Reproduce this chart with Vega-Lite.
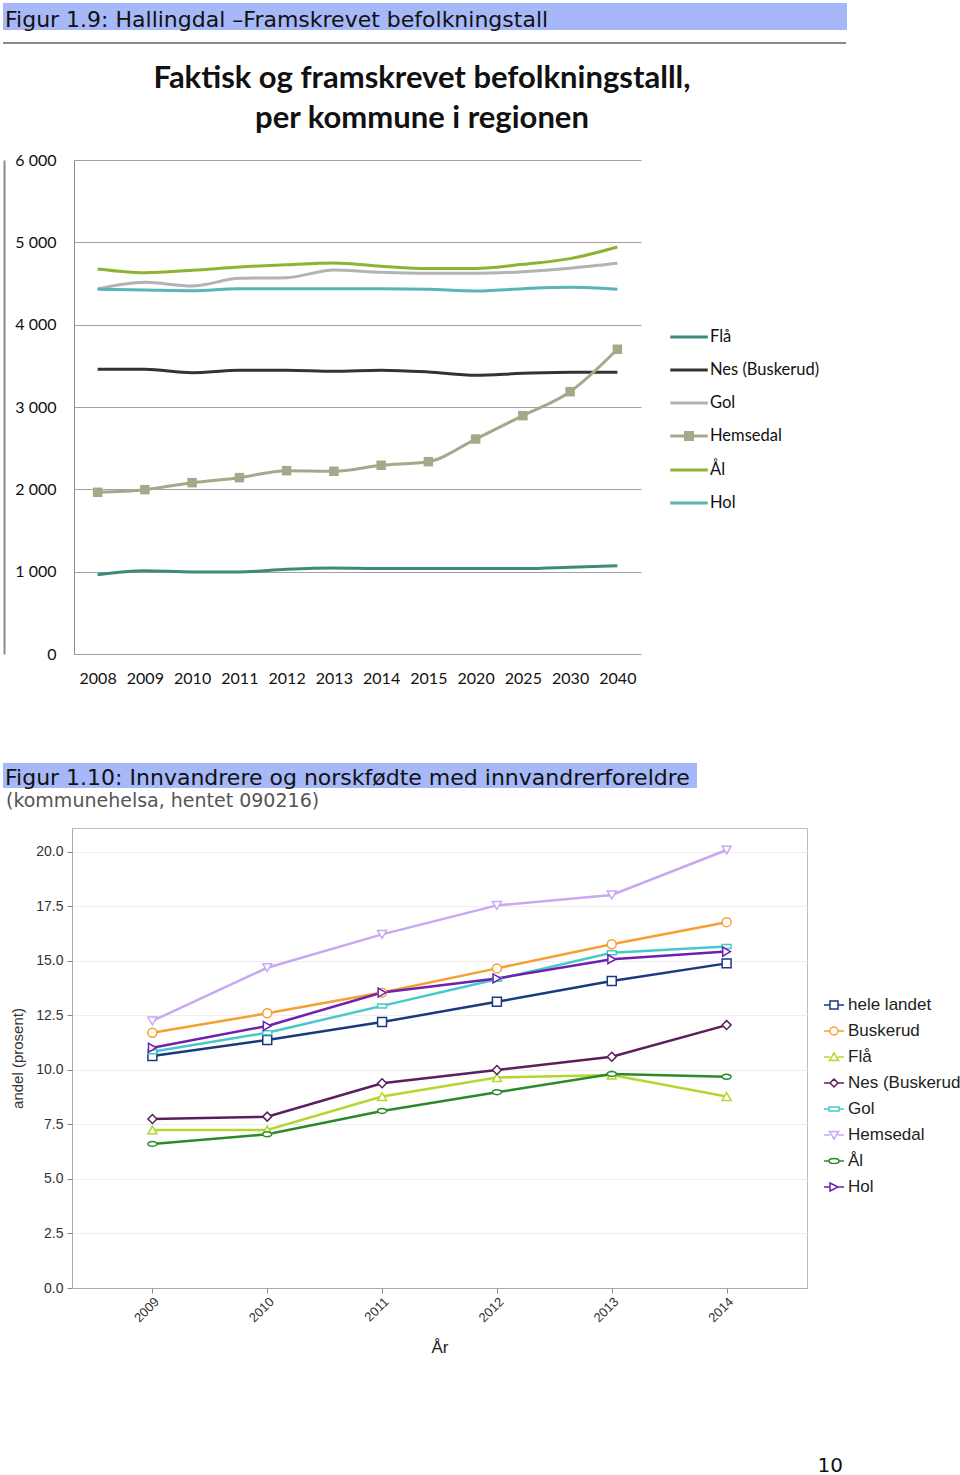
{
  "$schema": "https://vega.github.io/schema/vega-lite/v6.json",
  "background": "white",
  "padding": {"left": 3, "top": 3, "right": 0, "bottom": 0},
  "config": {"view": {"stroke": null}},
  "datasets": {
    "befolkning": [
      {"year": "2008", "kommune": "Ål", "folk": 4676}, {"year": "2009", "kommune": "Ål", "folk": 4631}, {"year": "2010", "kommune": "Ål", "folk": 4660}, {"year": "2011", "kommune": "Ål", "folk": 4700}, {"year": "2012", "kommune": "Ål", "folk": 4729}, {"year": "2013", "kommune": "Ål", "folk": 4749}, {"year": "2014", "kommune": "Ål", "folk": 4709}, {"year": "2015", "kommune": "Ål", "folk": 4681}, {"year": "2020", "kommune": "Ål", "folk": 4681}, {"year": "2025", "kommune": "Ål", "folk": 4733}, {"year": "2030", "kommune": "Ål", "folk": 4802}, {"year": "2040", "kommune": "Ål", "folk": 4943},
      {"year": "2008", "kommune": "Gol", "folk": 4433}, {"year": "2009", "kommune": "Gol", "folk": 4514}, {"year": "2010", "kommune": "Gol", "folk": 4470}, {"year": "2011", "kommune": "Gol", "folk": 4563}, {"year": "2012", "kommune": "Gol", "folk": 4571}, {"year": "2013", "kommune": "Gol", "folk": 4664}, {"year": "2014", "kommune": "Gol", "folk": 4636}, {"year": "2015", "kommune": "Gol", "folk": 4624}, {"year": "2020", "kommune": "Gol", "folk": 4624}, {"year": "2025", "kommune": "Gol", "folk": 4644}, {"year": "2030", "kommune": "Gol", "folk": 4685}, {"year": "2040", "kommune": "Gol", "folk": 4745},
      {"year": "2008", "kommune": "Hol", "folk": 4430}, {"year": "2009", "kommune": "Hol", "folk": 4421}, {"year": "2010", "kommune": "Hol", "folk": 4413}, {"year": "2011", "kommune": "Hol", "folk": 4437}, {"year": "2012", "kommune": "Hol", "folk": 4437}, {"year": "2013", "kommune": "Hol", "folk": 4437}, {"year": "2014", "kommune": "Hol", "folk": 4437}, {"year": "2015", "kommune": "Hol", "folk": 4430}, {"year": "2020", "kommune": "Hol", "folk": 4409}, {"year": "2025", "kommune": "Hol", "folk": 4437}, {"year": "2030", "kommune": "Hol", "folk": 4454}, {"year": "2040", "kommune": "Hol", "folk": 4430},
      {"year": "2008", "kommune": "Nes (Buskerud)", "folk": 3458}, {"year": "2009", "kommune": "Nes (Buskerud)", "folk": 3458}, {"year": "2010", "kommune": "Nes (Buskerud)", "folk": 3417}, {"year": "2011", "kommune": "Nes (Buskerud)", "folk": 3446}, {"year": "2012", "kommune": "Nes (Buskerud)", "folk": 3446}, {"year": "2013", "kommune": "Nes (Buskerud)", "folk": 3433}, {"year": "2014", "kommune": "Nes (Buskerud)", "folk": 3446}, {"year": "2015", "kommune": "Nes (Buskerud)", "folk": 3425}, {"year": "2020", "kommune": "Nes (Buskerud)", "folk": 3385}, {"year": "2025", "kommune": "Nes (Buskerud)", "folk": 3409}, {"year": "2030", "kommune": "Nes (Buskerud)", "folk": 3421}, {"year": "2040", "kommune": "Nes (Buskerud)", "folk": 3421},
      {"year": "2008", "kommune": "Flå", "folk": 963}, {"year": "2009", "kommune": "Flå", "folk": 1012}, {"year": "2010", "kommune": "Flå", "folk": 996}, {"year": "2011", "kommune": "Flå", "folk": 996}, {"year": "2012", "kommune": "Flå", "folk": 1029}, {"year": "2013", "kommune": "Flå", "folk": 1045}, {"year": "2014", "kommune": "Flå", "folk": 1037}, {"year": "2015", "kommune": "Flå", "folk": 1037}, {"year": "2020", "kommune": "Flå", "folk": 1037}, {"year": "2025", "kommune": "Flå", "folk": 1037}, {"year": "2030", "kommune": "Flå", "folk": 1053}, {"year": "2040", "kommune": "Flå", "folk": 1073},
      {"year": "2008", "kommune": "Hemsedal", "folk": 1964}, {"year": "2009", "kommune": "Hemsedal", "folk": 1996}, {"year": "2010", "kommune": "Hemsedal", "folk": 2081}, {"year": "2011", "kommune": "Hemsedal", "folk": 2142}, {"year": "2012", "kommune": "Hemsedal", "folk": 2227}, {"year": "2013", "kommune": "Hemsedal", "folk": 2219}, {"year": "2014", "kommune": "Hemsedal", "folk": 2292}, {"year": "2015", "kommune": "Hemsedal", "folk": 2336}, {"year": "2020", "kommune": "Hemsedal", "folk": 2611}, {"year": "2025", "kommune": "Hemsedal", "folk": 2895}, {"year": "2030", "kommune": "Hemsedal", "folk": 3186}, {"year": "2040", "kommune": "Hemsedal", "folk": 3701}
    ],
    "innvandrere": [
      {"aar": "2009", "region": "hele landet", "andel": 10.64}, {"aar": "2010", "region": "hele landet", "andel": 11.38}, {"aar": "2011", "region": "hele landet", "andel": 12.2}, {"aar": "2012", "region": "hele landet", "andel": 13.13}, {"aar": "2013", "region": "hele landet", "andel": 14.08}, {"aar": "2014", "region": "hele landet", "andel": 14.89},
      {"aar": "2009", "region": "Buskerud", "andel": 11.71}, {"aar": "2010", "region": "Buskerud", "andel": 12.6}, {"aar": "2011", "region": "Buskerud", "andel": 13.55}, {"aar": "2012", "region": "Buskerud", "andel": 14.66}, {"aar": "2013", "region": "Buskerud", "andel": 15.77}, {"aar": "2014", "region": "Buskerud", "andel": 16.78},
      {"aar": "2009", "region": "Flå", "andel": 7.25}, {"aar": "2010", "region": "Flå", "andel": 7.25}, {"aar": "2011", "region": "Flå", "andel": 8.78}, {"aar": "2012", "region": "Flå", "andel": 9.65}, {"aar": "2013", "region": "Flå", "andel": 9.77}, {"aar": "2014", "region": "Flå", "andel": 8.78},
      {"aar": "2009", "region": "Nes (Buskerud)", "andel": 7.75}, {"aar": "2010", "region": "Nes (Buskerud)", "andel": 7.86}, {"aar": "2011", "region": "Nes (Buskerud)", "andel": 9.39}, {"aar": "2012", "region": "Nes (Buskerud)", "andel": 10.0}, {"aar": "2013", "region": "Nes (Buskerud)", "andel": 10.61}, {"aar": "2014", "region": "Nes (Buskerud)", "andel": 12.06},
      {"aar": "2009", "region": "Gol", "andel": 10.84}, {"aar": "2010", "region": "Gol", "andel": 11.71}, {"aar": "2011", "region": "Gol", "andel": 12.94}, {"aar": "2012", "region": "Gol", "andel": 14.16}, {"aar": "2013", "region": "Gol", "andel": 15.38}, {"aar": "2014", "region": "Gol", "andel": 15.66},
      {"aar": "2009", "region": "Hemsedal", "andel": 12.25}, {"aar": "2010", "region": "Hemsedal", "andel": 14.69}, {"aar": "2011", "region": "Hemsedal", "andel": 16.22}, {"aar": "2012", "region": "Hemsedal", "andel": 17.55}, {"aar": "2013", "region": "Hemsedal", "andel": 18.03}, {"aar": "2014", "region": "Hemsedal", "andel": 20.09},
      {"aar": "2009", "region": "Ål", "andel": 6.61}, {"aar": "2010", "region": "Ål", "andel": 7.05}, {"aar": "2011", "region": "Ål", "andel": 8.12}, {"aar": "2012", "region": "Ål", "andel": 8.98}, {"aar": "2013", "region": "Ål", "andel": 9.82}, {"aar": "2014", "region": "Ål", "andel": 9.69},
      {"aar": "2009", "region": "Hol", "andel": 11.02}, {"aar": "2010", "region": "Hol", "andel": 12.02}, {"aar": "2011", "region": "Hol", "andel": 13.55}, {"aar": "2012", "region": "Hol", "andel": 14.2}, {"aar": "2013", "region": "Hol", "andel": 15.08}, {"aar": "2014", "region": "Hol", "andel": 15.43}
    ],
    "sider": [{"side": "10"}]
  },
  "spacing": 77,
  "resolve": {"scale": {"color": "independent"}},
  "vconcat": [
    {
      "spacing": 19,
      "resolve": {"scale": {"color": "independent"}},
      "vconcat": [
        {
          "spacing": 11,
          "vconcat": [
            {
              "width": 844,
              "height": 27,
              "view": {"fill": "#a6b8f8", "stroke": null},
              "data": {"name": "sider"},
              "mark": {"type": "rect", "color": "#a6b8f8"},
              "encoding": {},
              "title": {"text": "Figur 1.9: Hallingdal –Framskrevet befolkningstall", "anchor": "start", "frame": "group", "baseline": "alphabetic", "offset": -46, "dx": 2, "font": "DejaVu Sans", "fontSize": 22, "fontWeight": "normal", "color": "#111111"}
            },
            {
              "width": 843,
              "height": 2,
              "view": {"fill": "#8a8a8a", "stroke": null},
              "data": {"name": "sider"},
              "mark": {"type": "rect", "color": "#8a8a8a"},
              "encoding": {}
            }
          ]
        },
        {
          "spacing": 0,
          "resolve": {"scale": {"color": "independent"}},
          "hconcat": [
            {
              "width": 1,
              "height": 1,
              "data": {"name": "sider"},
              "mark": {"type": "rect", "opacity": 0},
              "encoding": {}
            },
            {
              "width": 567,
              "height": 494,
              "data": {"name": "befolkning"},
              "title": {"text": ["Faktisk og framskrevet befolkningstalll,", "per kommune i regionen"], "font": "Lato", "fontSize": 31, "fontWeight": "bold", "lineHeight": 40, "color": "#111111", "anchor": "middle", "frame": "bounds", "offset": 17, "dx": 10},
              "resolve": {"axis": {"y": "independent"}},
              "encoding": {
                "x": {"field": "year", "type": "ordinal", "sort": null, "scale": {"type": "point", "padding": 0.5},
                  "axis": {"title": null, "labelAngle": 0, "ticks": false, "domain": false, "grid": false, "labelPadding": 16, "labelFont": "Lato", "labelFontSize": 16, "labelColor": "#111111"}},
                "y": {"field": "folk", "type": "quantitative", "scale": {"domain": [0, 6000], "nice": false},
                  "axis": {"title": null, "values": [0, 1000, 2000, 3000, 4000, 5000, 6000], "labelExpr": "replace(format(datum.value, ','), ',', ' ')", "ticks": false, "labelPadding": 18, "labelFont": "Lato", "labelFontSize": 16, "labelColor": "#111111", "gridColor": "#a0a0a0", "domainColor": "#8c8c8c"}}
              },
              "layer": [
                {
                  "mark": {"type": "line", "strokeWidth": 3, "interpolate": "monotone"},
                  "encoding": {
                    "color": {"field": "kommune", "type": "nominal",
                      "scale": {"domain": ["Flå", "Nes (Buskerud)", "Gol", "Hemsedal", "Ål", "Hol"], "range": ["#3a8b7b", "#333333", "#b3b3b3", "#a7a78c", "#8db332", "#58b4b6"]},
                      "legend": {"orient": "none", "legendX": 601, "legendY": 163, "title": null, "padding": 0, "symbolSize": 625, "symbolStrokeWidth": 3, "labelFont": "Lato", "labelFontSize": 16.5, "labelColor": "#111111", "labelOffset": 7, "rowPadding": 10,
                        "encode": {"symbols": {"update": {
                          "shape": {"signal": "datum.value === 'Hemsedal' ? 'M-1.5,0L1.5,0M-0.28,-0.28L0.28,-0.28L0.28,0.28L-0.28,0.28Z' : 'M-1.5,0L1.5,0'"},
                          "fill": {"signal": "datum.value === 'Hemsedal' ? '#a7a78c' : 'transparent'"}}}}}}
                  }
                },
                {
                  "transform": [{"filter": "datum.kommune === 'Hemsedal'"}],
                  "mark": {"type": "square", "size": 90, "opacity": 1, "color": "#a7a78c"},
                  "encoding": {"y": {"field": "folk", "type": "quantitative", "axis": null}}
                },
                {
                  "mark": {"type": "point", "opacity": 0},
                  "encoding": {"y": {"field": "folk", "type": "quantitative", "axis": {"orient": "left", "offset": 70, "labels": false, "ticks": false, "grid": false, "title": null, "domainColor": "#8a8a8a", "domainWidth": 2}}}
                }
              ]
            }
          ]
        }
      ]
    },
    {
      "spacing": 99,
      "resolve": {"scale": {"color": "independent"}},
      "vconcat": [
        {
          "spacing": 2,
          "resolve": {"scale": {"color": "independent"}},
          "vconcat": [
            {
              "width": 694,
              "height": 25,
              "view": {"fill": "#a6b8f8", "stroke": null},
              "data": {"name": "sider"},
              "mark": {"type": "rect", "color": "#a6b8f8"},
              "encoding": {},
              "title": {"text": "Figur 1.10: Innvandrere og norskfødte med innvandrerforeldre", "anchor": "start", "frame": "group", "baseline": "alphabetic", "offset": -44, "dx": 2, "font": "DejaVu Sans", "fontSize": 22, "fontWeight": "normal", "color": "#111111"}
            },
            {
              "spacing": 0,
              "resolve": {"scale": {"color": "independent"}},
              "hconcat": [
                {
                  "width": 2,
                  "height": 1,
                  "data": {"name": "sider"},
                  "mark": {"type": "rect", "opacity": 0},
                  "encoding": {}
                },
                {
                  "width": 735,
                  "height": 460,
                  "view": {"stroke": "#bdbdbd"},
                  "data": {"name": "innvandrere"},
                  "title": {"text": "(kommunehelsa, hentet 090216)", "anchor": "start", "frame": "group", "baseline": "alphabetic", "offset": 2, "dx": -66, "font": "DejaVu Sans", "fontSize": 19, "fontWeight": "normal", "color": "#555555"},
                  "encoding": {
                    "x": {"field": "aar", "type": "ordinal", "scale": {"type": "point", "padding": 0.7},
                      "axis": {"title": "År", "labelAngle": -45, "labelFont": "Liberation Sans", "labelFontSize": 13, "labelColor": "#333333", "tickSize": 5, "tickColor": "#888888", "domainColor": "#aaaaaa", "grid": false, "titleFont": "Liberation Sans", "titleFontSize": 17, "titleFontWeight": "normal", "titleColor": "#222222", "titlePadding": 15}},
                    "y": {"field": "andel", "type": "quantitative", "scale": {"domain": [0, 21.1], "nice": false},
                      "axis": {"title": "andel (prosent)", "values": [0, 2.5, 5, 7.5, 10, 12.5, 15, 17.5, 20], "format": ".1f", "labelFont": "Liberation Sans", "labelFontSize": 14, "labelColor": "#333333", "labelPadding": 4, "tickSize": 5, "tickColor": "#888888", "domainColor": "#aaaaaa", "gridColor": "#eeeeee", "titleFont": "Liberation Sans", "titleFontSize": 15, "titleFontWeight": "normal", "titleColor": "#333333", "titlePadding": 10}},
                    "color": {"field": "region", "type": "nominal",
                      "scale": {"domain": ["hele landet", "Buskerud", "Flå", "Nes (Buskerud)", "Gol", "Hemsedal", "Ål", "Hol"], "range": ["#1a3a80", "#f5a030", "#b5d630", "#5c1e5c", "#48c8c8", "#c8a8f0", "#2a8a2a", "#7020b0"]},
                      "legend": {"orient": "none", "legendX": 751, "legendY": 166, "title": null, "padding": 0, "symbolSize": 400, "symbolStrokeWidth": 1.5, "labelFont": "Liberation Sans", "labelFontSize": 17, "labelColor": "#222222", "labelOffset": 3, "rowPadding": 7,
                        "encode": {"symbols": {"update": {
                          "shape": {"signal": "({'hele landet': 'M-1,0L-0.4,0M0.4,0L1,0M-0.4,-0.4L0.4,-0.4L0.4,0.4L-0.4,0.4Z', 'Buskerud': 'M-1,0L-0.4,0M0.4,0L1,0M-0.4,0A0.4,0.4 0 1 1 0.4,0A0.4,0.4 0 1 1 -0.4,0Z', 'Flå': 'M-1,0L-0.4,0M0.4,0L1,0M0,-0.4L0.45,0.35L-0.45,0.35Z', 'Nes (Buskerud)': 'M-1,0L-0.4,0M0.4,0L1,0M0,-0.4L0.4,0L0,0.4L-0.4,0Z', 'Gol': 'M-1,0L-0.5,0M0.5,0L1,0M-0.5,-0.2L0.5,-0.2L0.5,0.2L-0.5,0.2Z', 'Hemsedal': 'M-1,0L-0.4,0M0.4,0L1,0M0,0.4L0.45,-0.35L-0.45,-0.35Z', 'Ål': 'M-1,0L-0.5,0M0.5,0L1,0M-0.5,0A0.5,0.25 0 1 1 0.5,0A0.5,0.25 0 1 1 -0.5,0Z', 'Hol': 'M-1,0L-0.4,0M0.4,0L1,0M-0.4,-0.4L0.4,0L-0.4,0.4Z'})[datum.value]"},
                          "fill": {"value": "white"},
                          "fillOpacity": {"value": 1},
                          "opacity": {"value": 1}}}}}}
                  },
                  "layer": [
                    {"mark": {"type": "line", "strokeWidth": 2.5}},
                    {"transform": [{"filter": "datum.region === 'hele landet'"}], "mark": {"type": "point", "shape": "square", "filled": false, "fill": "white", "fillOpacity": 1, "opacity": 1, "size": 80, "strokeWidth": 1.5}},
                    {"transform": [{"filter": "datum.region === 'Buskerud'"}], "mark": {"type": "point", "shape": "circle", "filled": false, "fill": "white", "fillOpacity": 1, "opacity": 1, "size": 80, "strokeWidth": 1.5}},
                    {"transform": [{"filter": "datum.region === 'Flå'"}], "mark": {"type": "point", "shape": "triangle-up", "filled": false, "fill": "white", "fillOpacity": 1, "opacity": 1, "size": 80, "strokeWidth": 1.5}},
                    {"transform": [{"filter": "datum.region === 'Nes (Buskerud)'"}], "mark": {"type": "point", "shape": "diamond", "filled": false, "fill": "white", "fillOpacity": 1, "opacity": 1, "size": 80, "strokeWidth": 1.5}},
                    {"transform": [{"filter": "datum.region === 'Gol'"}], "mark": {"type": "point", "shape": "M-1,-0.45L1,-0.45L1,0.45L-1,0.45Z", "filled": false, "fill": "white", "fillOpacity": 1, "opacity": 1, "size": 80, "strokeWidth": 1.5}},
                    {"transform": [{"filter": "datum.region === 'Hemsedal'"}], "mark": {"type": "point", "shape": "triangle-down", "filled": false, "fill": "white", "fillOpacity": 1, "opacity": 1, "size": 80, "strokeWidth": 1.5}},
                    {"transform": [{"filter": "datum.region === 'Ål'"}], "mark": {"type": "point", "shape": "M-1,0A1,0.55 0 1 1 1,0A1,0.55 0 1 1 -1,0Z", "filled": false, "fill": "white", "fillOpacity": 1, "opacity": 1, "size": 80, "strokeWidth": 1.5}},
                    {"transform": [{"filter": "datum.region === 'Hol'"}], "mark": {"type": "point", "shape": "triangle-right", "filled": false, "fill": "white", "fillOpacity": 1, "opacity": 1, "size": 80, "strokeWidth": 1.5}}
                  ]
                }
              ]
            }
          ]
        },
        {
          "width": 844,
          "height": 1,
          "data": {"name": "sider"},
          "mark": {"type": "rect", "opacity": 0},
          "encoding": {},
          "title": {"text": "10", "anchor": "end", "frame": "group", "baseline": "alphabetic", "offset": -22, "dx": -4, "font": "DejaVu Sans", "fontSize": 20, "fontWeight": "normal", "color": "#111111"}
        }
      ]
    }
  ]
}
